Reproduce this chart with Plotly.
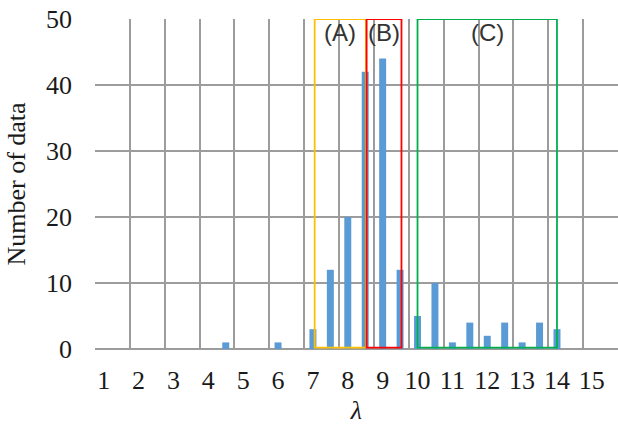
import plotly.graph_objects as go

# lambda categories (step 0.5) and the count of data in each
lam = [1, 1.5, 2, 2.5, 3, 3.5, 4, 4.5, 5, 5.5, 6, 6.5, 7, 7.5, 8,
       8.5, 9, 9.5, 10, 10.5, 11, 11.5, 12, 12.5, 13, 13.5, 14, 14.5, 15, 15.5]
counts = [0, 0, 0, 0, 0, 0, 0, 1, 0, 0, 1, 0, 3, 12, 20,
          42, 44, 12, 5, 10, 1, 4, 2, 4, 1, 4, 3, 0, 0, 0]

tick_labels = list(range(1, 16))

# regions: label, lambda start, lambda end, outline colour
region_names = ["(A)", "(B)", "(C)"]
region_start = [7.05, 8.54, 10.0]
region_end = [8.52, 9.54, 14.0]
region_colors = ["#FFC000", "#FF0000", "#00B050"]

GRID = "#9C9C9C"
SERIF = "Liberation Serif"

fig = go.Figure()
fig.add_trace(go.Bar(x=lam, y=counts, width=0.2,
                     marker=dict(color="#5B9BD5", line=dict(width=0))))

for name, x0, x1, col in zip(region_names, region_start, region_end, region_colors):
    fig.add_shape(type="rect", xref="x", yref="y", x0=x0, x1=x1, y0=0.2, y1=50,
                  line=dict(color=col, width=1.8), layer="above")
    fig.add_annotation(x=(x0 + x1) / 2, y=47.9, xref="x", yref="y", text=name,
                       showarrow=False,
                       font=dict(family="Liberation Sans", size=24, color="#333333"))

fig.update_layout(
    width=618, height=425,
    margin=dict(l=95, r=0, t=19, b=76),
    paper_bgcolor="white", plot_bgcolor="white",
    showlegend=False,
    xaxis=dict(
        range=[0.75, 15.75],
        tickmode="array", tickvals=tick_labels, ticktext=[str(v) for v in tick_labels],
        showgrid=False, zeroline=False, showline=False, ticks="",
        tickfont=dict(family=SERIF, size=26, color="#1a1a1a"),
        ticklabelstandoff=13,
        minor=dict(tickmode="array", tickvals=[0.75 + i for i in range(16)],
                   showgrid=True, gridcolor=GRID, gridwidth=1.5, ticks=""),
        title=dict(text="<i>λ</i>", font=dict(family=SERIF, size=26, color="#1a1a1a"),
                   standoff=8),
    ),
    yaxis=dict(
        range=[0, 50], tickvals=[0, 10, 20, 30, 40, 50],
        showgrid=True, gridcolor=GRID, gridwidth=1.5,
        zeroline=True, zerolinecolor=GRID, zerolinewidth=1.5,
        showline=False, ticks="",
        tickfont=dict(family=SERIF, size=26, color="#1a1a1a"),
        ticklabelstandoff=22,
        title=dict(text="Number of data", font=dict(family=SERIF, size=26, color="#1a1a1a"),
                   standoff=12),
    ),
)

fig.write_html("out.html")
